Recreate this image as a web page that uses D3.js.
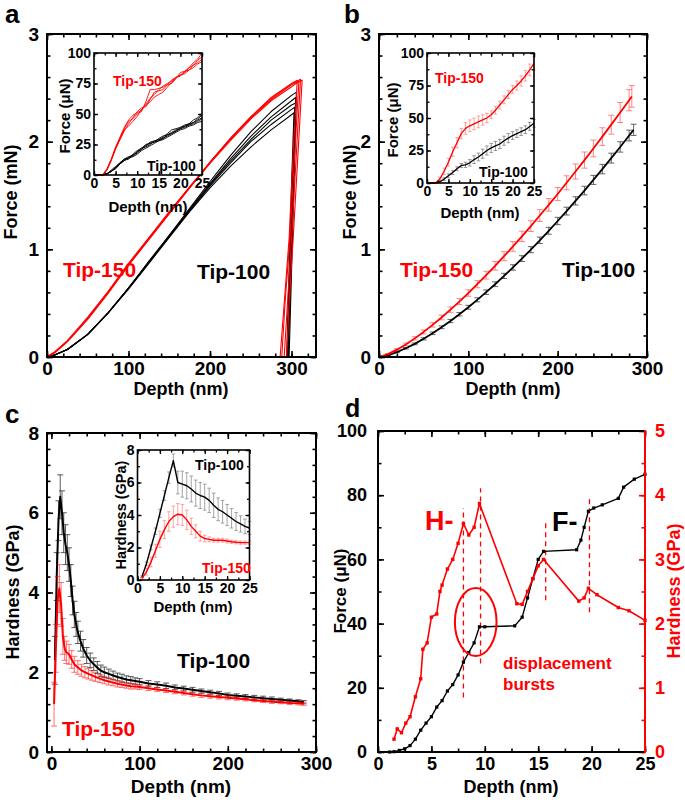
<!DOCTYPE html>
<html><head><meta charset="utf-8">
<script src="https://cdn.jsdelivr.net/npm/d3@7"></script>
<style>
body{margin:0;background:#fff}
svg{display:block}
</style></head><body>
<svg id="fig" width="685" height="804"></svg>
<script>
// ================= DATA =================
// Panel a: load-unload curves [depth nm, force mN], replicates
const redA1 = [[0,0],[10,0.05],[25,0.15],[50,0.36],[75,0.6],[100,0.86],[125,1.1],[150,1.34],[175,1.58],[200,1.81],[225,2.03],[250,2.23],[275,2.4],[300,2.53],[311,2.58],[306,1.9],[300,1.1],[295,0.5],[291,0]];
const redA2 = [[0,0],[10,0.05],[25,0.15],[50,0.37],[75,0.61],[100,0.87],[125,1.11],[150,1.35],[175,1.58],[200,1.8],[225,2.01],[250,2.21],[275,2.38],[300,2.51],[309,2.56],[304,1.9],[298,1.1],[292,0.5],[288,0]];
const redA3 = [[0,0],[10,0.04],[25,0.14],[50,0.35],[75,0.59],[100,0.85],[125,1.09],[150,1.33],[175,1.57],[200,1.8],[225,2.02],[250,2.22],[275,2.39],[300,2.53],[313,2.57],[308,1.9],[302,1.1],[297,0.5],[294,0]];
const redA4 = [[0,0],[10,0.05],[25,0.15],[50,0.36],[75,0.6],[100,0.86],[125,1.1],[150,1.34],[175,1.57],[200,1.81],[225,2.03],[250,2.23],[275,2.41],[300,2.54],[307,2.57],[302,1.9],[297,1.1],[291,0.5],[286,0]];
const blackA1 = [[0,0],[10,0.02],[25,0.07],[50,0.21],[75,0.41],[100,0.64],[125,0.88],[150,1.12],[175,1.36],[200,1.59],[225,1.8],[250,2.0],[275,2.16],[300,2.3],[304,2.32],[301,1.6],[298,0.8],[295,0]];
const blackA2 = [[0,0],[10,0.02],[25,0.07],[50,0.21],[75,0.41],[100,0.64],[125,0.88],[150,1.13],[175,1.37],[200,1.61],[225,1.84],[250,2.05],[275,2.23],[300,2.38],[305,2.41],[302,1.6],[299,0.8],[296,0]];
const blackA3 = [[0,0],[10,0.02],[25,0.07],[50,0.21],[75,0.41],[100,0.63],[125,0.87],[150,1.11],[175,1.35],[200,1.57],[225,1.77],[250,1.95],[275,2.11],[300,2.25],[303,2.27],[300,1.6],[297,0.8],[294,0]];
const blackA4 = [[0,0],[10,0.02],[25,0.07],[50,0.21],[75,0.41],[100,0.64],[125,0.89],[150,1.13],[175,1.38],[200,1.63],[225,1.87],[250,2.09],[275,2.28],[300,2.43],[306,2.46],[303,1.6],[300,0.8],[297,0]];
const blackA5 = [[0,0],[10,0.02],[25,0.07],[50,0.21],[75,0.41],[100,0.64],[125,0.88],[150,1.12],[175,1.36],[200,1.6],[225,1.82],[250,2.02],[275,2.2],[300,2.34],[305,2.36],[302,1.6],[298,0.8],[295,0]];

// Inset depth grid (nm)
const insetDepth = [0,1,2,3,4,5,6,7,8,9,10,11,12,13,14,15,16,17,18,19,20,21,22,23,24,25];
// Inset a: force (uN) replicates
const redIa1 = [0,0,0,4,12,22,30,38,44,46,50,52,60,70,70,71,72,74,78,80,82,84,88,92,95,100];
const redIa2 = [0,0,0,5,13,22,29,37,40,44,48,54,57,60,64,66,68,72,76,80,82,83,86,90,92,95];
const redIa3 = [0,0,0,4,12,21,29,36,42,47,52,55,56,62,68,69,70,74,75,79,84,85,86,88,91,93];
const redIa4 = [0,0,0,5,13,23,31,39,45,49,51,53,58,63,66,70,73,75,77,80,81,85,88,90,94,97];
const blackIa1 = [0,0,0,1,3,6,10,13,14,16,18,21,24,26,27,28,30,32,34,36,38,40,41,42,44,46];
const blackIa2 = [0,0,0,1,3,6,9,12,14,17,20,22,23,25,28,29,30,33,35,37,38,39,41,43,46,49];
const blackIa3 = [0,0,0,1,4,7,10,13,15,16,19,21,24,27,28,29,31,34,37,38,39,40,42,45,47,50];
const blackIa4 = [0,0,0,1,3,6,9,12,14,15,17,20,22,24,26,28,29,31,33,35,37,38,40,41,43,44];
const blackIa5 = [0,0,0,1,3,5,9,12,13,16,19,22,25,26,27,30,32,33,34,36,39,41,42,43,45,47];

// Panel b: mean loading curves (mN) with error
const bDepthRed = [0,10,20,30,40,50,60,70,80,90,100,110,120,130,140,150,160,170,180,190,200,210,220,230,240,250,260,270,280,283];
const bRed      = [0,0.027,0.068,0.117,0.173,0.233,0.298,0.367,0.44,0.515,0.594,0.676,0.76,0.847,0.936,1.027,1.121,1.216,1.314,1.413,1.514,1.618,1.723,1.829,1.937,2.047,2.158,2.271,2.385,2.42];
const bRedErr   = [0,0.005,0.01,0.012,0.015,0.018,0.02,0.022,0.025,0.028,0.03,0.033,0.036,0.04,0.042,0.045,0.048,0.05,0.055,0.058,0.06,0.065,0.07,0.075,0.078,0.082,0.088,0.093,0.098,0.1];
const bDepthBlack = [0,10,20,30,40,50,60,70,80,90,100,110,120,130,140,150,160,170,180,190,200,210,220,230,240,250,260,270,280,285];
const bBlack      = [0,0.016,0.045,0.081,0.122,0.169,0.22,0.276,0.334,0.397,0.462,0.531,0.602,0.676,0.753,0.832,0.914,0.997,1.084,1.172,1.263,1.355,1.45,1.546,1.645,1.745,1.847,1.951,2.057,2.11];
const bBlackErr   = [0,0.003,0.005,0.007,0.008,0.01,0.012,0.013,0.015,0.016,0.018,0.019,0.021,0.022,0.024,0.025,0.027,0.028,0.03,0.032,0.034,0.036,0.038,0.04,0.042,0.044,0.046,0.048,0.05,0.052];
// Inset b (uN)
const ibRed      = [0,0,0,3,9,16,24,31,38,42,44,45.5,47,48.5,50,52.5,56,60,64,68,72,75,78.5,82.5,87,92];
const ibRedErr   = [0,0,0.5,1.5,2.5,3,3.5,4,4,4.5,4.5,4.5,4.5,4,3.5,3,3,3,3,3,3,3.5,4,4,4.5,5];
const ibBlack    = [0,0,0,1,3,5.5,8,11,13.5,14,15.5,18,20,22.5,25,27,28.5,30,32.5,34.5,36.5,38,39.5,41,43.5,46];
const ibBlackErr = [0,0,0,0.5,1,1.5,1.5,1.5,1.5,2,2.5,3,3,3.5,3.5,3.5,3.5,3.5,3.5,3.5,3,3,3,3,3,3];

// Panel c: hardness (GPa) vs depth, [depth, H, err]
const cBlack = [[4,2.3,0.6],[6,4.4,0.6],[8,5.8,0.5],[10,6.4,0.55],[12,6.0,0.55],[14,5.5,0.5],[16,5.2,0.5],[18,5.0,0.45],[20,4.7,0.42],[22,4.3,0.4],[24,3.8,0.36],[26,3.45,0.33],[28,3.2,0.3],[30,3.0,0.28],[33,2.78,0.25],[36,2.6,0.22],[40,2.42,0.2],[44,2.3,0.18],[48,2.2,0.16],[52,2.12,0.15],[56,2.04,0.14],[60,2.0,0.13],[65,1.96,0.12],[70,1.92,0.11],[75,1.88,0.1],[80,1.85,0.1],[85,1.82,0.09],[90,1.8,0.09],[95,1.78,0.08],[100,1.76,0.08],[110,1.72,0.07],[120,1.69,0.07],[130,1.66,0.07],[140,1.62,0.06],[150,1.59,0.06],[160,1.56,0.06],[170,1.53,0.05],[180,1.5,0.05],[190,1.47,0.05],[200,1.43,0.05],[210,1.41,0.05],[220,1.39,0.05],[230,1.37,0.05],[240,1.35,0.05],[250,1.33,0.05],[260,1.31,0.04],[270,1.29,0.04],[280,1.27,0.04],[286,1.25,0.04]];
const cRed = [[3,1.2,0.55],[5,2.6,0.6],[7,3.8,0.6],[9,4.1,0.6],[11,3.7,0.55],[13,2.9,0.45],[15,2.6,0.3],[17,2.5,0.28],[20,2.45,0.25],[23,2.32,0.22],[26,2.2,0.2],[30,2.12,0.17],[34,2.05,0.15],[38,2.0,0.14],[42,1.96,0.13],[46,1.92,0.12],[50,1.88,0.11],[55,1.84,0.1],[60,1.8,0.09],[65,1.77,0.09],[70,1.74,0.08],[75,1.71,0.08],[80,1.69,0.07],[85,1.67,0.07],[90,1.65,0.07],[95,1.64,0.06],[100,1.63,0.06],[110,1.6,0.06],[120,1.57,0.05],[130,1.54,0.05],[140,1.51,0.05],[150,1.48,0.05],[160,1.45,0.05],[170,1.42,0.05],[180,1.4,0.05],[190,1.38,0.05],[200,1.36,0.05],[210,1.34,0.04],[220,1.32,0.04],[230,1.3,0.04],[240,1.28,0.04],[250,1.26,0.04],[260,1.25,0.04],[270,1.23,0.04],[280,1.22,0.04],[286,1.21,0.04]];
// Inset c (depth 1..25)
const icDepth    = [1,2,3,4,5,6,7,8,9,10,11,12,13,14,15,16,17,18,19,20,21,22,23,24,25];
const icBlack    = [0.2,1.0,2.0,3.0,4.1,5.2,6.3,7.35,6.0,5.9,5.8,5.6,5.35,5.2,5.1,4.9,4.6,4.35,4.2,4.0,3.8,3.6,3.45,3.3,3.2];
const icBlackErr = [0.05,0.1,0.15,0.2,0.25,0.3,0.35,0.4,0.7,0.8,0.8,0.8,0.8,0.8,0.8,0.75,0.75,0.7,0.7,0.65,0.6,0.55,0.5,0.45,0.4];
const icRed      = [0.1,0.5,1.1,1.8,2.5,3.1,3.6,3.9,4.05,4.0,3.7,3.3,3.0,2.7,2.55,2.5,2.45,2.45,2.45,2.4,2.35,2.32,2.3,2.3,2.3];
const icRedErr   = [0.05,0.2,0.3,0.4,0.5,0.55,0.6,0.65,0.65,0.65,0.6,0.5,0.4,0.3,0.2,0.15,0.12,0.12,0.12,0.12,0.1,0.1,0.1,0.1,0.1];

// Panel d: force (uN) and hardness (GPa) vs depth (nm)
const dForce = [[1.1,0],[1.5,0.1],[2,0.5],[2.5,1],[3,2],[3.5,4],[4,6.8],[4.5,9],[5,11],[5.5,14],[6,16],[6.5,19],[7,21],[7.5,24],[8,28],[8.5,31],[9,34],[9.5,39],[10,39],[12.8,39.3],[13.5,42],[14,48],[14.5,54],[15,60],[15.5,62.5],[18.6,63],[19,66],[19.3,70],[19.7,75],[20.2,76],[21,77],[22.5,79],[23,82.5],[24,85],[25,86.5]];
const dHard = [[1.5,0.2],[1.8,0.36],[2.2,0.3],[2.6,0.45],[3,0.55],[3.5,0.86],[4,1.14],[4.2,1.6],[4.6,1.7],[5,2.1],[5.5,2.15],[5.8,2.5],[6,2.6],[6.5,2.85],[7,3.0],[7.5,3.25],[8,3.56],[8.5,3.38],[9,3.5],[9.5,3.87],[13,2.31],[13.5,2.3],[14,2.5],[14.5,2.7],[15,2.9],[15.5,3.0],[18.8,2.35],[19.3,2.4],[19.7,2.55],[20.5,2.45],[22.5,2.25],[23.5,2.2],[25,2.05]];
const dMarks = [[8,17,76],[9.6,27.6,82.2],[15.7,47.3,72.2],[19.8,43.5,80]]; // depth, force from, force to
const dBurst = {depth:9.15, force:40.5, rDepth:1.95, rForce:10.6};

// Tick labels
const ticksA_x = [0,100,200,300], ticksA_y = [0,1,2,3];
const ticksC_x = [0,100,200,300], ticksC_y = [0,2,4,6,8];
const ticksInset_x = [0,5,10,15,20,25], ticksInsetF_y = [0,25,50,75,100], ticksInsetH_y = [0,2,4,6,8];
const ticksD_x = [0,5,10,15,20,25], ticksD_y = [0,20,40,60,80,100], ticksD_y2 = [0,1,2,3,4,5];

// ================= DRAWING =================
const FONT = '"Liberation Sans", Arial, Helvetica, sans-serif';
const RED = '#ff0000';
const svg = d3.select('#fig').attr('font-family', FONT).attr('font-weight', 'bold');

function ax(g, gen, tr, vals, size, labelled, pad, fs, color, tw) {
  const a = g.append('g').attr('transform', tr)
    .call(gen.tickValues(vals).tickSize(-size).tickSizeOuter(0).tickPadding(pad)
      .tickFormat(labelled ? (v => String(v)) : () => ''));
  a.select('.domain').remove();
  a.attr('font-family', FONT).attr('font-size', fs).attr('font-weight', 'bold');
  a.selectAll('line').attr('stroke', color).attr('stroke-width', tw);
  a.selectAll('text').attr('fill', color);
  return a;
}
function frame(g, x, y, o) {
  const [X0, X1] = x.range(), [Y0, Y1] = y.range();
  const tc = '#000';
  ax(g, d3.axisBottom(x), `translate(0,${Y0})`, o.xMin, o.mn, false, 0, o.fs, tc, o.tw);
  ax(g, d3.axisBottom(x), `translate(0,${Y0})`, o.xMaj, o.maj, true, o.xPad, o.fs, tc, o.tw);
  ax(g, d3.axisTop(x), `translate(0,${Y1})`, o.xMin, o.mn, false, 0, o.fs, tc, o.tw);
  ax(g, d3.axisTop(x), `translate(0,${Y1})`, o.xMaj, o.maj, false, 0, o.fs, tc, o.tw);
  ax(g, d3.axisLeft(y), `translate(${X0},0)`, o.yMin, o.mn, false, 0, o.fs, tc, o.tw);
  ax(g, d3.axisLeft(y), `translate(${X0},0)`, o.yMaj, o.maj, true, o.yPad, o.fs, tc, o.tw);
  if (o.y2) {
    ax(g, d3.axisRight(o.y2), `translate(${X1},0)`, o.y2Min, o.mn, false, 0, o.fs, RED, o.tw);
    ax(g, d3.axisRight(o.y2), `translate(${X1},0)`, o.y2Maj, o.maj, true, o.y2Pad, o.fs, RED, o.tw);
    const fl = g.append('g').attr('stroke-width', o.fw).attr('stroke-linecap', 'square');
    fl.append('line').attr('x1', X0).attr('x2', X1).attr('y1', Y1).attr('y2', Y1).attr('stroke', '#000');
    fl.append('line').attr('x1', X0).attr('x2', X1).attr('y1', Y0).attr('y2', Y0).attr('stroke', '#000');
    fl.append('line').attr('x1', X0).attr('x2', X0).attr('y1', Y0).attr('y2', Y1).attr('stroke', '#000');
    fl.append('line').attr('x1', X1).attr('x2', X1).attr('y1', Y0).attr('y2', Y1).attr('stroke', RED);
  } else {
    ax(g, d3.axisRight(y), `translate(${X1},0)`, o.yMin, o.mn, false, 0, o.fs, tc, o.tw);
    ax(g, d3.axisRight(y), `translate(${X1},0)`, o.yMaj, o.maj, false, 0, o.fs, tc, o.tw);
    g.append('rect').attr('x', X0).attr('y', Y1).attr('width', X1 - X0).attr('height', Y0 - Y1)
      .attr('fill', 'none').attr('stroke', '#000').attr('stroke-width', o.fw);
  }
}
function txt(g, x, y, s, fs, color, anchor, rot) {
  const t = g.append('text').attr('font-size', fs).attr('fill', color || '#000')
    .attr('text-anchor', anchor || 'start').text(s);
  if (rot) t.attr('transform', `translate(${x},${y}) rotate(${rot})`);
  else t.attr('x', x).attr('y', y);
  return t;
}
function path(g, x, y, pts, color, w) {
  return g.append('path').attr('d', d3.line().x(d => x(d[0])).y(d => y(d[1]))(pts))
    .attr('fill', 'none').attr('stroke', color).attr('stroke-width', w).attr('stroke-linejoin', 'round');
}
function errBars(g, x, y, pts, color, cap, sw, op) {
  const eg = g.append('g').attr('stroke', color).attr('stroke-width', sw).attr('opacity', op);
  pts.forEach(([d, v, e]) => {
    if (!e) return;
    const X = x(d), A = y(v - e), B = y(v + e);
    eg.append('line').attr('x1', X).attr('x2', X).attr('y1', A).attr('y2', B);
    eg.append('line').attr('x1', X - cap).attr('x2', X + cap).attr('y1', A).attr('y2', A);
    eg.append('line').attr('x1', X - cap).attr('x2', X + cap).attr('y1', B).attr('y2', B);
  });
}
const rng = (a, b, s) => d3.range(a, b + s / 2, s);
const zip = (xs, ys, es) => xs.map((d, i) => es ? [d, ys[i], es[i]] : [d, ys[i]]);

const mainOpt = {maj: 6, mn: 3.5, tw: 1.6, fw: 2, fs: 19, xPad: 5, yPad: 8};
const insetOpt = {maj: 4, mn: 2.5, tw: 1.3, fw: 1.6, fs: 14, xPad: 3, yPad: 3};

// ---------- Panel a ----------
{
  const g = svg.append('g');
  const x = d3.scaleLinear().domain([0, 330]).range([47, 316]);
  const y = d3.scaleLinear().domain([0, 3]).range([357, 34]);
  [blackA1, blackA2, blackA3, blackA4, blackA5].forEach(c => path(g, x, y, c, '#000', 1.1));
  [redA1, redA2, redA3, redA4].forEach(c => path(g, x, y, c, RED, 1.1));
  frame(g, x, y, Object.assign({}, mainOpt, {xMaj: ticksA_x, xMin: rng(0, 320, 20), yMaj: ticksA_y, yMin: rng(0, 3, 0.2)}));
  txt(g, 5, 23, 'a', 26);
  txt(g, 181, 395, 'Depth (nm)', 18, '#000', 'middle');
  txt(g, 17, 192, 'Force (mN)', 18, '#000', 'middle', -90);
  txt(g, 63, 277, 'Tip-150', 21, RED);
  txt(g, 197, 279, 'Tip-100', 21, '#000');
  // inset
  const xi = d3.scaleLinear().domain([0, 25]).range([94, 202]);
  const yi = d3.scaleLinear().domain([0, 100]).range([175, 53]);
  g.append('rect').attr('x', 94).attr('y', 53).attr('width', 108).attr('height', 122).attr('fill', '#fff');
  [blackIa1, blackIa2, blackIa3, blackIa4, blackIa5].forEach(c => path(g, xi, yi, zip(insetDepth, c), '#000', 0.9));
  [redIa1, redIa2, redIa3, redIa4].forEach(c => path(g, xi, yi, zip(insetDepth, c), RED, 0.9));
  frame(g, xi, yi, Object.assign({}, insetOpt, {xMaj: ticksInset_x, xMin: rng(0, 25, 2.5), yMaj: ticksInsetF_y, yMin: rng(0, 100, 12.5)}));
  txt(g, 148, 212, 'Depth (nm)', 15, '#000', 'middle');
  txt(g, 70, 116, 'Force (\u03bcN)', 15, '#000', 'middle', -90);
  txt(g, 113, 86, 'Tip-150', 14, RED);
  txt(g, 147, 171, 'Tip-100', 14, '#000');
}

// ---------- Panel b ----------
{
  const g = svg.append('g');
  const x = d3.scaleLinear().domain([0, 300]).range([379, 647]);
  const y = d3.scaleLinear().domain([0, 3]).range([357, 34]);
  errBars(g, x, y, zip(bDepthBlack, bBlack, bBlackErr), '#000', 3, 0.8, 0.75);
  path(g, x, y, zip(bDepthBlack, bBlack), '#000', 1.8);
  errBars(g, x, y, zip(bDepthRed, bRed, bRedErr), RED, 3, 0.8, 0.6);
  path(g, x, y, zip(bDepthRed, bRed), RED, 1.8);
  frame(g, x, y, Object.assign({}, mainOpt, {xMaj: ticksA_x, xMin: rng(0, 300, 20), yMaj: ticksA_y, yMin: rng(0, 3, 0.2)}));
  txt(g, 344, 23, 'b', 26);
  txt(g, 513, 395, 'Depth (nm)', 18, '#000', 'middle');
  txt(g, 356, 192, 'Force (mN)', 18, '#000', 'middle', -90);
  txt(g, 400, 277, 'Tip-150', 21, RED);
  txt(g, 562, 277, 'Tip-100', 21, '#000');
  const xi = d3.scaleLinear().domain([0, 25]).range([427, 534]);
  const yi = d3.scaleLinear().domain([0, 100]).range([183, 53]);
  g.append('rect').attr('x', 427).attr('y', 53).attr('width', 107).attr('height', 130).attr('fill', '#fff');
  errBars(g, xi, yi, zip(insetDepth, ibBlack, ibBlackErr), '#000', 1.8, 0.7, 0.55);
  path(g, xi, yi, zip(insetDepth, ibBlack), '#000', 1.3);
  errBars(g, xi, yi, zip(insetDepth, ibRed, ibRedErr), RED, 1.8, 0.7, 0.5);
  path(g, xi, yi, zip(insetDepth, ibRed), RED, 1.3);
  frame(g, xi, yi, Object.assign({}, insetOpt, {xMaj: ticksInset_x, xMin: rng(0, 25, 2.5), yMaj: ticksInsetF_y, yMin: rng(0, 100, 12.5)}));
  txt(g, 480, 218, 'Depth (nm)', 15, '#000', 'middle');
  txt(g, 398, 120, 'Force (\u03bcN)', 15, '#000', 'middle', -90);
  txt(g, 435, 83, 'Tip-150', 14, RED);
  txt(g, 479, 177, 'Tip-100', 14, '#000');
}

// ---------- Panel c ----------
{
  const g = svg.append('g');
  const x = d3.scaleLinear().domain([-5, 300]).range([47, 316]);
  const y = d3.scaleLinear().domain([0, 8]).range([752, 433]);
  errBars(g, x, y, cBlack, '#000', 3, 0.8, 0.8);
  path(g, x, y, cBlack, '#000', 2);
  errBars(g, x, y, cRed, RED, 3, 0.8, 0.7);
  path(g, x, y, cRed, RED, 2);
  frame(g, x, y, Object.assign({}, mainOpt, {xMaj: ticksC_x, xMin: rng(0, 300, 20), yMaj: ticksC_y, yMin: rng(0, 8, 0.4)}));
  txt(g, 5, 423, 'c', 26);
  txt(g, 181, 793, 'Depth (nm)', 19, '#000', 'middle');
  txt(g, 19, 592, 'Hardness (GPa)', 18, '#000', 'middle', -90);
  txt(g, 177, 668, 'Tip-100', 21, '#000');
  txt(g, 62, 736, 'Tip-150', 21, RED);
  const xi = d3.scaleLinear().domain([0, 25]).range([137.5, 249.5]);
  const yi = d3.scaleLinear().domain([0, 8]).range([580, 450]);
  g.append('rect').attr('x', 137.5).attr('y', 450).attr('width', 112).attr('height', 130).attr('fill', '#fff');
  errBars(g, xi, yi, zip(icDepth, icBlack, icBlackErr), '#000', 1.8, 0.7, 0.5);
  path(g, xi, yi, zip(icDepth, icBlack), '#000', 1.4);
  errBars(g, xi, yi, zip(icDepth, icRed, icRedErr), RED, 1.8, 0.7, 0.5);
  path(g, xi, yi, zip(icDepth, icRed), RED, 1.4);
  frame(g, xi, yi, Object.assign({}, insetOpt, {xMaj: ticksInset_x, xMin: rng(0, 25, 2.5), yMaj: ticksInsetH_y, yMin: rng(0, 8, 1)}));
  txt(g, 193, 612, 'Depth (nm)', 15, '#000', 'middle');
  txt(g, 126, 515, 'Hardness (GPa)', 14.5, '#000', 'middle', -90);
  txt(g, 195, 470, 'Tip-100', 14, '#000');
  txt(g, 202, 573, 'Tip-150', 14, RED);
}

// ---------- Panel d ----------
{
  const g = svg.append('g');
  const x = d3.scaleLinear().domain([0, 25]).range([378, 645]);
  const y = d3.scaleLinear().domain([0, 100]).range([752, 431]);
  const y2 = d3.scaleLinear().domain([0, 5]).range([752, 431]);
  dMarks.forEach(([d, f0, f1]) => g.append('line').attr('x1', x(d)).attr('x2', x(d)).attr('y1', y(f0)).attr('y2', y(f1))
    .attr('stroke', RED).attr('stroke-width', 1.3).attr('stroke-dasharray', '5,4'));
  path(g, x, y, dForce, '#000', 1.4);
  g.append('g').selectAll('rect').data(dForce).join('rect')
    .attr('x', d => x(d[0]) - 1.6).attr('y', d => y(d[1]) - 1.6).attr('width', 3.2).attr('height', 3.2).attr('fill', '#000');
  path(g, x, y2, dHard, RED, 1.6);
  g.append('g').selectAll('rect').data(dHard).join('rect')
    .attr('x', d => x(d[0]) - 1.7).attr('y', d => y2(d[1]) - 1.7).attr('width', 3.4).attr('height', 3.4).attr('fill', RED);
  g.append('ellipse').attr('cx', x(dBurst.depth)).attr('cy', y(dBurst.force))
    .attr('rx', x(dBurst.depth + dBurst.rDepth) - x(dBurst.depth)).attr('ry', y(dBurst.force) - y(dBurst.force + dBurst.rForce))
    .attr('fill', 'none').attr('stroke', RED).attr('stroke-width', 2);
  frame(g, x, y, Object.assign({}, mainOpt, {fs: 18, yPad: 11, y2Pad: 10, xMaj: ticksD_x, xMin: rng(0, 25, 2.5), yMaj: ticksD_y, yMin: rng(0, 100, 10),
    y2: y2, y2Maj: ticksD_y2, y2Min: rng(0, 5, 0.5)}));
  txt(g, 345, 417, 'd', 25);
  txt(g, 511, 793, 'Depth (nm)', 18, '#000', 'middle');
  txt(g, 346, 591, 'Force (\u03bcN)', 17, '#000', 'middle', -90);
  txt(g, 680, 591, 'Hardness (GPa)', 18, RED, 'middle', -90);
  txt(g, 425, 530, 'H-', 27, RED);
  txt(g, 552, 531, 'F-', 27, '#000');
  txt(g, 503, 669, 'displacement', 17, RED);
  txt(g, 503, 690, 'bursts', 17, RED);
}
</script>
</body></html>
